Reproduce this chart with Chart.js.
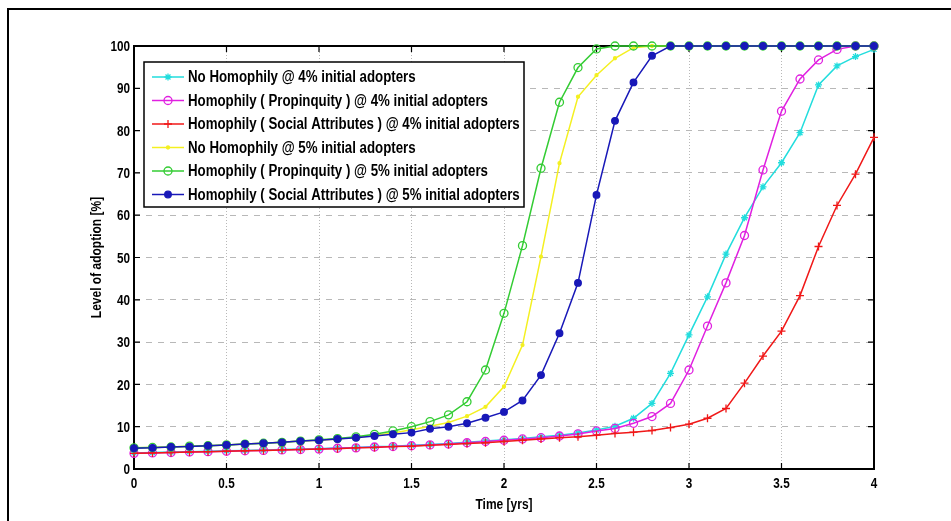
<!DOCTYPE html>
<html>
<head>
<meta charset="utf-8">
<script src="https://cdn.jsdelivr.net/npm/chart.js@4.4.1/dist/chart.umd.min.js"></script>
<style>
	body { margin: 0; background: #fff; }
	#wrap { position: relative; width: 951px; height: 521px; overflow: hidden; }
	#frame { position: absolute; left: 7px; top: 8px; width: 1000px; height: 600px; border: 2px solid #000; box-sizing: border-box; }
	#myChart { position: absolute; left: 0; top: 0; }
</style>
</head>
<body>
<div id="wrap">
	<div id="frame"></div>
	<canvas id="myChart" width="951" height="521"></canvas>
</div>
<script>
var FONT = "'Liberation Sans', Arial, sans-serif";

var years = [0, 0.1, 0.2, 0.3, 0.4, 0.5, 0.6, 0.7, 0.8, 0.9, 1.0, 1.1, 1.2, 1.3, 1.4, 1.5, 1.6, 1.7, 1.8, 1.9,
	2.0, 2.1, 2.2, 2.3, 2.4, 2.5, 2.6, 2.7, 2.8, 2.9, 3.0, 3.1, 3.2, 3.3, 3.4, 3.5, 3.6, 3.7, 3.8, 3.9, 4.0];

var noHomophily4 = [3.8, 3.9, 4.0, 4.1, 4.2, 4.3, 4.4, 4.5, 4.6, 4.7, 4.8, 5.0, 5.1, 5.3, 5.4, 5.6, 5.8, 6.0, 6.3, 6.6,
	6.9, 7.2, 7.6, 8.0, 8.5, 9.2, 10.1, 12.0, 15.5, 22.6, 31.7, 40.7, 50.8, 59.4, 66.7, 72.4, 79.5, 90.8, 95.3, 97.5, 99.2];
var propinquity4 = [3.7, 3.8, 3.9, 4.0, 4.1, 4.2, 4.3, 4.4, 4.5, 4.6, 4.7, 4.9, 5.0, 5.2, 5.3, 5.5, 5.7, 5.9, 6.2, 6.5,
	6.8, 7.1, 7.4, 7.8, 8.3, 9.0, 9.6, 10.8, 12.4, 15.5, 23.4, 33.8, 44.0, 55.2, 70.7, 84.6, 92.2, 96.7, 99.2, 100, 100];
var social4 = [3.7, 3.8, 3.9, 4.0, 4.1, 4.2, 4.3, 4.4, 4.5, 4.6, 4.7, 4.8, 5.0, 5.1, 5.3, 5.4, 5.6, 5.8, 6.0, 6.2,
	6.5, 6.8, 7.1, 7.4, 7.6, 8.0, 8.4, 8.7, 9.1, 9.8, 10.6, 12.0, 14.3, 20.3, 26.7, 32.6, 41.0, 52.6, 62.3, 69.7, 78.4];
var noHomophily5 = [5.0, 5.1, 5.2, 5.4, 5.5, 5.7, 5.9, 6.1, 6.3, 6.6, 6.8, 7.1, 7.5, 7.9, 8.5, 9.3, 10.1, 11.0, 12.5, 14.7,
	19.5, 29.3, 50.2, 72.3, 88.0, 93.1, 97.1, 99.6, 100, 100, 100, 100, 100, 100, 100, 100, 100, 100, 100, 100, 100];
var propinquity5 = [5.0, 5.1, 5.2, 5.4, 5.5, 5.7, 5.9, 6.1, 6.3, 6.6, 6.9, 7.2, 7.6, 8.2, 9.0, 10.0, 11.2, 12.8, 15.9, 23.4,
	36.8, 52.8, 71.1, 86.7, 94.9, 99.3, 100, 100, 100, 100, 100, 100, 100, 100, 100, 100, 100, 100, 100, 100, 100];
var social5 = [4.9, 5.0, 5.2, 5.3, 5.5, 5.7, 5.9, 6.1, 6.3, 6.6, 6.8, 7.1, 7.4, 7.8, 8.2, 8.6, 9.5, 10.0, 10.8, 12.1,
	13.5, 16.2, 22.2, 32.1, 44.0, 64.8, 82.3, 91.4, 97.7, 100, 100, 100, 100, 100, 100, 100, 100, 100, 100, 100, 100];

var seriesLabels = [
	"No Homophily @ 4% initial adopters",
	"Homophily ( Propinquity ) @ 4% initial adopters",
	"Homophily ( Social Attributes ) @ 4% initial adopters",
	"No Homophily @ 5% initial adopters",
	"Homophily ( Propinquity ) @ 5% initial adopters",
	"Homophily ( Social Attributes ) @ 5% initial adopters"
];
var xTicks = [0, 0.5, 1, 1.5, 2, 2.5, 3, 3.5, 4];
var yTicks = [0, 10, 20, 30, 40, 50, 60, 70, 80, 90, 100];
var xTitle = "Time [yrs]";
var yTitle = "Level of adoption [%]";

function pts(arr) {
	return years.map(function (x, i) { return { x: x, y: arr[i] }; });
}

function makeSet(label, values, color, style, radius, filled, order) {
	return {
		label: label,
		data: pts(values),
		borderColor: color,
		backgroundColor: color,
		borderWidth: 1.5,
		pointStyle: style,
		pointRadius: radius,
		pointBorderWidth: 1.3,
		pointBackgroundColor: filled ? color : "rgba(0,0,0,0)",
		pointBorderColor: color,
		tension: 0,
		clip: false,
		order: order
	};
}

var datasets = [
	makeSet(seriesLabels[0], noHomophily4, "#22dddd", "star", 3.5, false, 6),
	makeSet(seriesLabels[1], propinquity4, "#e020e0", "circle", 4, false, 5),
	makeSet(seriesLabels[2], social4, "#f01818", "cross", 4, false, 4),
	makeSet(seriesLabels[3], noHomophily5, "#f4f020", "circle", 1.5, true, 3),
	makeSet(seriesLabels[4], propinquity5, "#33cc33", "circle", 4, false, 2),
	makeSet(seriesLabels[5], social5, "#1818b8", "circle", 3.3, true, 1)
];

// narrow bold text (the source uses a condensed font we don't have)
function narrowText(ctx, text, x, y, size, sx, align, rot) {
	ctx.save();
	ctx.translate(x, y);
	if (rot) ctx.rotate(rot);
	ctx.scale(sx, 1);
	ctx.font = "bold " + size + "px " + FONT;
	ctx.textAlign = align;
	ctx.textBaseline = "middle";
	ctx.fillStyle = "#000";
	ctx.fillText(text, 0, 0);
	ctx.restore();
}

// box, inward ticks, labels and legend inside the plot, matlab style
var boxPlugin = {
	id: "boxPlugin",
	beforeDatasetsDraw: function (chart) {
		var ctx = chart.ctx, a = chart.chartArea;
		var xs = chart.scales.x, ys = chart.scales.y;
		ctx.save();
		ctx.strokeStyle = "#000";
		ctx.lineWidth = 1.2;
		xTicks.forEach(function (v) {
			var px = xs.getPixelForValue(v);
			ctx.beginPath();
			ctx.moveTo(px, a.bottom); ctx.lineTo(px, a.bottom - 6);
			ctx.moveTo(px, a.top); ctx.lineTo(px, a.top + 6);
			ctx.stroke();
			narrowText(ctx, String(v), px, a.bottom + 15, 15, 0.78, "center");
		});
		yTicks.forEach(function (v) {
			var py = ys.getPixelForValue(v);
			ctx.beginPath();
			ctx.moveTo(a.left, py); ctx.lineTo(a.left + 6, py);
			ctx.moveTo(a.right, py); ctx.lineTo(a.right - 6, py);
			ctx.stroke();
			narrowText(ctx, String(v), a.left - 4, py + 1, 15, 0.78, "right");
		});
		ctx.lineWidth = 2;
		ctx.strokeRect(a.left, a.top, a.right - a.left, a.bottom - a.top);
		narrowText(ctx, xTitle, (a.left + a.right) / 2, a.bottom + 36, 15, 0.8, "center");
		narrowText(ctx, yTitle, 97, (a.top + a.bottom) / 2, 15, 0.8, "center", -Math.PI / 2);
		ctx.restore();
	},
	afterDatasetsDraw: function (chart) {
		var ctx = chart.ctx;
		var bx = 144, by = 62, bw = 380, bh = 145, row = 23.5;
		ctx.save();
		ctx.fillStyle = "#fff";
		ctx.fillRect(bx, by, bw, bh);
		ctx.strokeStyle = "#000";
		ctx.lineWidth = 1.5;
		ctx.strokeRect(bx, by, bw, bh);
		chart.data.datasets.forEach(function (ds, i) {
			var y = by + 15 + i * row;
			ctx.strokeStyle = ds.borderColor;
			ctx.lineWidth = 1.5;
			ctx.beginPath();
			ctx.moveTo(bx + 8, y); ctx.lineTo(bx + 40, y);
			ctx.stroke();
			ctx.fillStyle = ds.pointBackgroundColor;
			ctx.lineWidth = ds.pointBorderWidth;
			Chart.helpers.drawPoint(ctx, { pointStyle: ds.pointStyle, radius: ds.pointRadius, borderWidth: ds.pointBorderWidth, rotation: 0 }, bx + 24, y);
			narrowText(ctx, ds.label, bx + 44, y + 1, 16, 0.83, "left");
		});
		ctx.restore();
	}
};

var ctx = document.getElementById("myChart");
var myChart = new Chart(ctx, {
	type: "line",
	data: { datasets: datasets },
	options: {
		responsive: false,
		animation: false,
		events: [],
		layout: { padding: { left: 0, top: 46, right: 77, bottom: 0 } },
		plugins: {
			legend: { display: false },
			tooltip: { enabled: false }
		},
		scales: {
			x: {
				type: "linear",
				min: 0,
				max: 4,
				afterFit: function (s) { s.height = 52; },
				afterBuildTicks: function (s) { s.ticks = xTicks.map(function (v) { return { value: v }; }); },
				ticks: { display: false },
				grid: { color: "#b8b8b8", lineWidth: 1, drawTicks: false },
				border: { display: false, dash: [1, 2] }
			},
			y: {
				min: 0,
				max: 100,
				afterFit: function (s) { s.width = 134; },
				afterBuildTicks: function (s) { s.ticks = yTicks.map(function (v) { return { value: v }; }); },
				ticks: { display: false },
				grid: { color: "#b8b8b8", lineWidth: 1, drawTicks: false },
				border: { display: false, dash: [6, 6] }
			}
		}
	},
	plugins: [boxPlugin]
});
</script>
</body>
</html>
